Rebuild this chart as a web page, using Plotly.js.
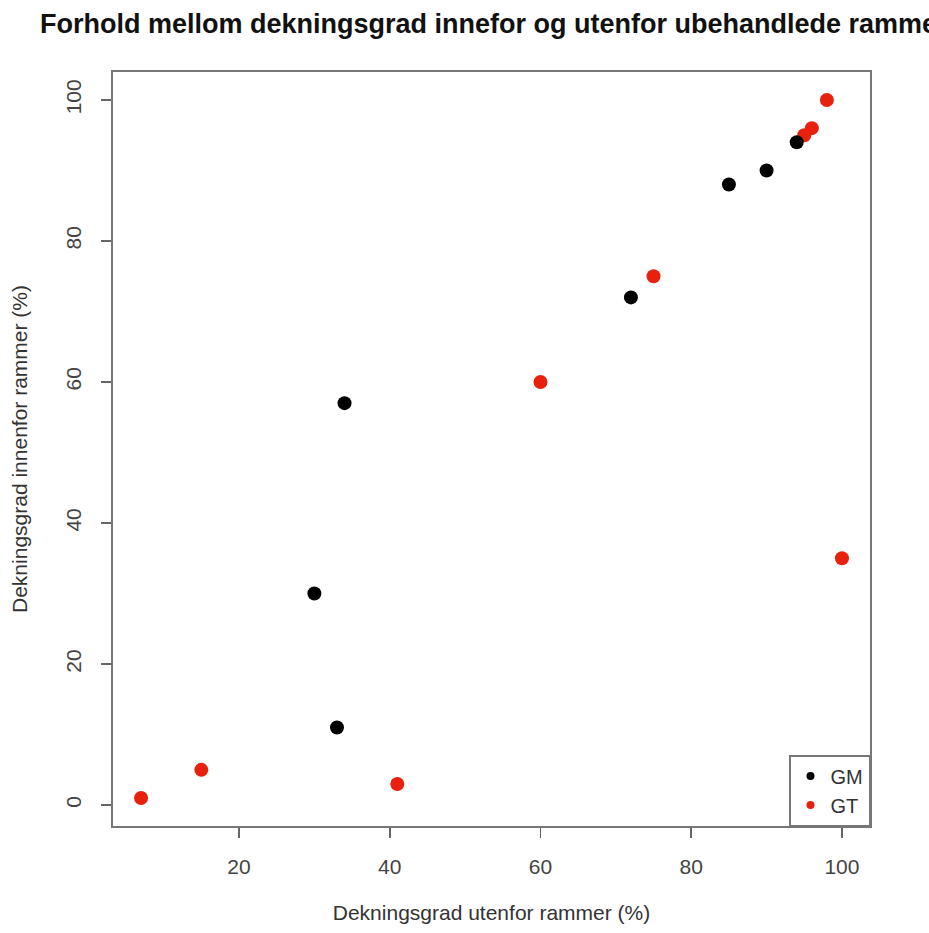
<!DOCTYPE html>
<html>
<head>
<meta charset="utf-8">
<script src="https://cdn.plot.ly/plotly-3.0.1.min.js"></script>
<style>html,body{margin:0;padding:0;background:#fff;}#chart{width:929px;height:933px;}</style>
</head>
<body>
<div id="chart"></div>
<script>
// Data
const gmUtenfor = [34, 30, 33, 72, 85, 90, 94];
const gmInnenfor = [57, 30, 11, 72, 88, 90, 94];
const gtUtenfor = [7, 15, 41, 60, 75, 95, 96, 98, 100];
const gtInnenfor = [1, 5, 3, 60, 75, 95, 96, 100, 35];
const seriesNames = ["GM", "GT"];
const seriesColors = ["#000000", "#e8210f"];
const xTicks = [20, 40, 60, 80, 100];
const yTicks = [0, 20, 40, 60, 80, 100];

const font = "Liberation Sans, Arial, Helvetica, sans-serif";

const traces = [
  {x: gtUtenfor, y: gtInnenfor, type: "scatter", mode: "markers", name: seriesNames[1],
   marker: {color: seriesColors[1], size: 14}, showlegend: false, hoverinfo: "x+y"},
  {x: gmUtenfor, y: gmInnenfor, type: "scatter", mode: "markers", name: seriesNames[0],
   marker: {color: seriesColors[0], size: 14}, showlegend: false, hoverinfo: "x+y"},
  {x: [null], y: [null], type: "scatter", mode: "markers", name: seriesNames[0],
   marker: {color: seriesColors[0], size: 8}},
  {x: [null], y: [null], type: "scatter", mode: "markers", name: seriesNames[1],
   marker: {color: seriesColors[1], size: 8}}
];

const layout = {
  width: 929, height: 933,
  margin: {l: 113, r: 59, t: 72, b: 107},
  paper_bgcolor: "#fff", plot_bgcolor: "#fff",
  font: {family: font, color: "#333", size: 21},
  title: {
    text: "Forhold mellom dekningsgrad innefor og utenfor ubehandlede rammer",
    font: {family: font, size: 27, color: "#111", weight: "bold"},
    xref: "container", x: 40 / 929, xanchor: "left",
    yref: "container", y: 1 - 24 / 933, yanchor: "middle"
  },
  xaxis: {
    range: [3.28, 103.72], tickvals: xTicks, ticktext: xTicks.map(String),
    ticks: "outside", ticklen: 10, tickwidth: 1.5, tickcolor: "#666",
    showgrid: false, zeroline: false, showline: true, mirror: true,
    linecolor: "#777", linewidth: 2,
    tickfont: {size: 21, color: "#444"}, ticklabelstandoff: 11,
    title: {text: "Dekningsgrad utenfor rammer (%)", font: {size: 21, color: "#333"}, standoff: 28}
  },
  yaxis: {
    range: [-2.96, 103.96], tickvals: yTicks, ticktext: yTicks.map(String),
    ticks: "outside", ticklen: 10, tickwidth: 1.5, tickcolor: "#666",
    showgrid: false, zeroline: false, showline: true, mirror: true,
    linecolor: "#777", linewidth: 2, tickangle: -90,
    tickfont: {size: 21, color: "#444"}, ticklabelstandoff: 12,
    title: {text: "Dekningsgrad innenfor rammer (%)", font: {size: 21, color: "#333"}, standoff: 28}
  },
  legend: {
    x: 1, xanchor: "right", y: 0, yanchor: "bottom",
    bordercolor: "#777", borderwidth: 1.5, bgcolor: "#fff",
    font: {size: 20, color: "#333"}, itemsizing: "trace",
    tracegroupgap: 0
  },
  showlegend: true
};

Plotly.newPlot("chart", traces, layout, {displayModeBar: false, staticPlot: true});
</script>
</body>
</html>
